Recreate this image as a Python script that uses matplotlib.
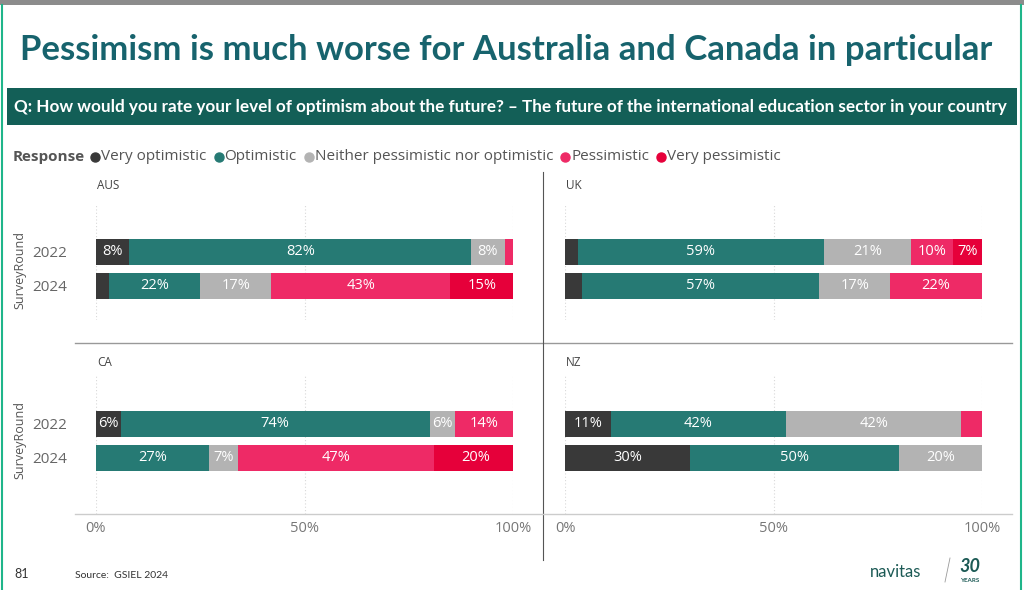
import matplotlib
matplotlib.use("Agg")
import matplotlib.pyplot as plt
import numpy as np

# data
rounds = ["2022", "2024"]
responses = ["Very optimistic", "Optimistic", "Neither pessimistic nor optimistic",
             "Pessimistic", "Very pessimistic"]
colors = ["#393939", "#267a74", "#b3b3b3", "#ee2a66", "#e6003a"]

aus_2022 = [8, 82, 8, 2, 0]
aus_2024 = [3, 22, 17, 43, 15]
uk_2022 = [3, 59, 21, 10, 7]
uk_2024 = [4, 57, 17, 22, 0]
ca_2022 = [6, 74, 6, 14, 0]
ca_2024 = [0, 27, 7, 47, 20]
nz_2022 = [11, 42, 42, 5, 0]
nz_2024 = [30, 50, 20, 0, 0]

x_ticks = [0, 50, 100]
x_ticklabels = ["0%", "50%", "100%"]

W, H = 1024, 590
fig = plt.figure(figsize=(W / 100, H / 100), dpi=100)
fig.patch.set_facecolor("white")

def fx(x):
    return x / W

def fy(y):
    return 1 - y / H

def line(x0, y0, x1, y1, color, lw):
    fig.add_artist(plt.Line2D([fx(x0), fx(x1)], [fy(y0), fy(y1)], color=color, lw=lw,
                              transform=fig.transFigure))

# slide frame
fig.add_artist(plt.Rectangle((0, fy(5)), 1, 5 / H, color="#8c8c8c", transform=fig.transFigure, lw=0))
line(2, 5, 2, 590, "#1fb58a", 1.5)
line(1021, 5, 1021, 590, "#1fb58a", 1.5)

# title and question banner
fig.text(fx(20), fy(50), "Pessimism is much worse for Australia and Canada in particular",
         fontsize=25, fontfamily="Lato", fontweight="bold", color="#17636d", va="center")
fig.add_artist(plt.Rectangle((fx(7), fy(125)), fx(1017) - fx(7), 37 / H, color="#135f57",
                             transform=fig.transFigure, lw=0))
fig.text(fx(14), fy(107), "Q: How would you rate your level of optimism about the future? \u2013 "
         "The future of the international education sector in your country",
         fontsize=12.3, fontfamily="Lato", fontweight="bold", color="white", va="center")

# legend
fig.canvas.draw()
renderer = fig.canvas.get_renderer()
t = fig.text(fx(13), fy(157), "Response", fontsize=11, fontfamily="Open Sans",
             fontweight="bold", color="#555555", va="center")
x = t.get_window_extent(renderer).x1 + 6
for lab, col in zip(responses, colors):
    fig.add_artist(plt.Line2D([(x + 4) / W], [fy(157)], marker="o", ms=6.5, color=col, lw=0,
                              transform=fig.transFigure))
    t = fig.text((x + 10) / W, fy(157), lab, fontsize=11, fontfamily="Open Sans",
                 color="#555555", va="center")
    x = t.get_window_extent(renderer).x1 + 8

# panels: name, data rows, x range px, axes top/bottom px, ylim, show x labels, show y labels,
# panel title y, y-axis title y
panels = [
    ("AUS", [aus_2022, aus_2024], 96, 513, 205, 320, (2.0, -1.38), False, True, 185, 270),
    ("UK", [uk_2022, uk_2024], 565, 982, 205, 320, (2.0, -1.38), False, False, 185, 270),
    ("CA", [ca_2022, ca_2024], 96, 513, 375, 514, (2.65, -1.44), True, True, 363, 440),
    ("NZ", [nz_2022, nz_2024], 565, 982, 375, 514, (2.65, -1.44), True, False, 363, 440),
]

for name, rows, x0, x1, yt, yb, ylim, xlab, ylab, ty, sy in panels:
    ax = fig.add_axes([fx(x0), fy(yb), (x1 - x0) / W, (yb - yt) / H])
    data = np.array(rows, dtype=float)
    ypos = np.arange(len(rounds))
    left = np.zeros(len(rounds))
    for k in range(len(responses)):
        vals = data[:, k]
        ax.barh(ypos, vals, left=left, height=0.76, color=colors[k], lw=0)
        for i, v in enumerate(vals):
            if v >= 6:
                ax.text(left[i] + v / 2, ypos[i], f"{int(v)}%", ha="center", va="center",
                        color="white", fontsize=10.5, fontfamily="Open Sans")
        left += vals
    ax.set_xlim(0, 100)
    ax.set_ylim(*ylim)
    ax.set_xticks(x_ticks)
    ax.grid(axis="x", color="#d8d8d8", ls=(0, (1, 2)), lw=0.8)
    ax.set_axisbelow(True)
    for s in ax.spines.values():
        s.set_visible(False)
    ax.tick_params(length=0)
    if xlab:
        ax.set_xticklabels(x_ticklabels, fontsize=10.5, fontfamily="Open Sans", color="#777777")
        ax.tick_params(axis="x", pad=5)
    else:
        ax.set_xticklabels([])
    if ylab:
        ax.set_yticks(ypos)
        ax.set_yticklabels(rounds, fontsize=11, fontfamily="Open Sans", color="#666666")
        ax.tick_params(axis="y", pad=21)
        fig.text(fx(20), fy(sy), "SurveyRound", rotation=90,
                 fontsize=9, fontfamily="Open Sans", color="#555555", ha="center", va="center")
    else:
        ax.set_yticks([])
    ax.patch.set_alpha(0)
    fig.text(fx(x0 + 1), fy(ty), name, fontsize=8.5, fontfamily="Open Sans", color="#444444",
             va="center")

# separators
line(75, 343, 1012, 343, "#999999", 1.0)
line(543, 172, 543, 560, "#555555", 0.8)
line(75, 514, 1012, 514, "#cccccc", 1.0)

# footer
fig.text(fx(14), fy(574), "81", fontsize=9, fontfamily="Lato", color="#333333", va="center")
fig.text(fx(75), fy(576), "Source:  GSIEL 2024", fontsize=7.5, fontfamily="Lato", color="#333333",
         va="center")
fig.text(fx(870), fy(572), "navitas", fontsize=12, fontfamily="Lato", color="#1c5a55", va="center")
line(950, 558, 945, 582, "#9a9a9a", 0.6)
fig.text(fx(970), fy(566), "30", fontsize=13, fontfamily="Lato", fontweight="bold",
         fontstyle="italic", color="#1c5a55", va="center", ha="center")
fig.text(fx(970), fy(581), "YEARS", fontsize=4.5, fontfamily="Lato", fontweight="bold",
         color="#1c5a55", va="center", ha="center")

fig.savefig("out.png", dpi=100)
